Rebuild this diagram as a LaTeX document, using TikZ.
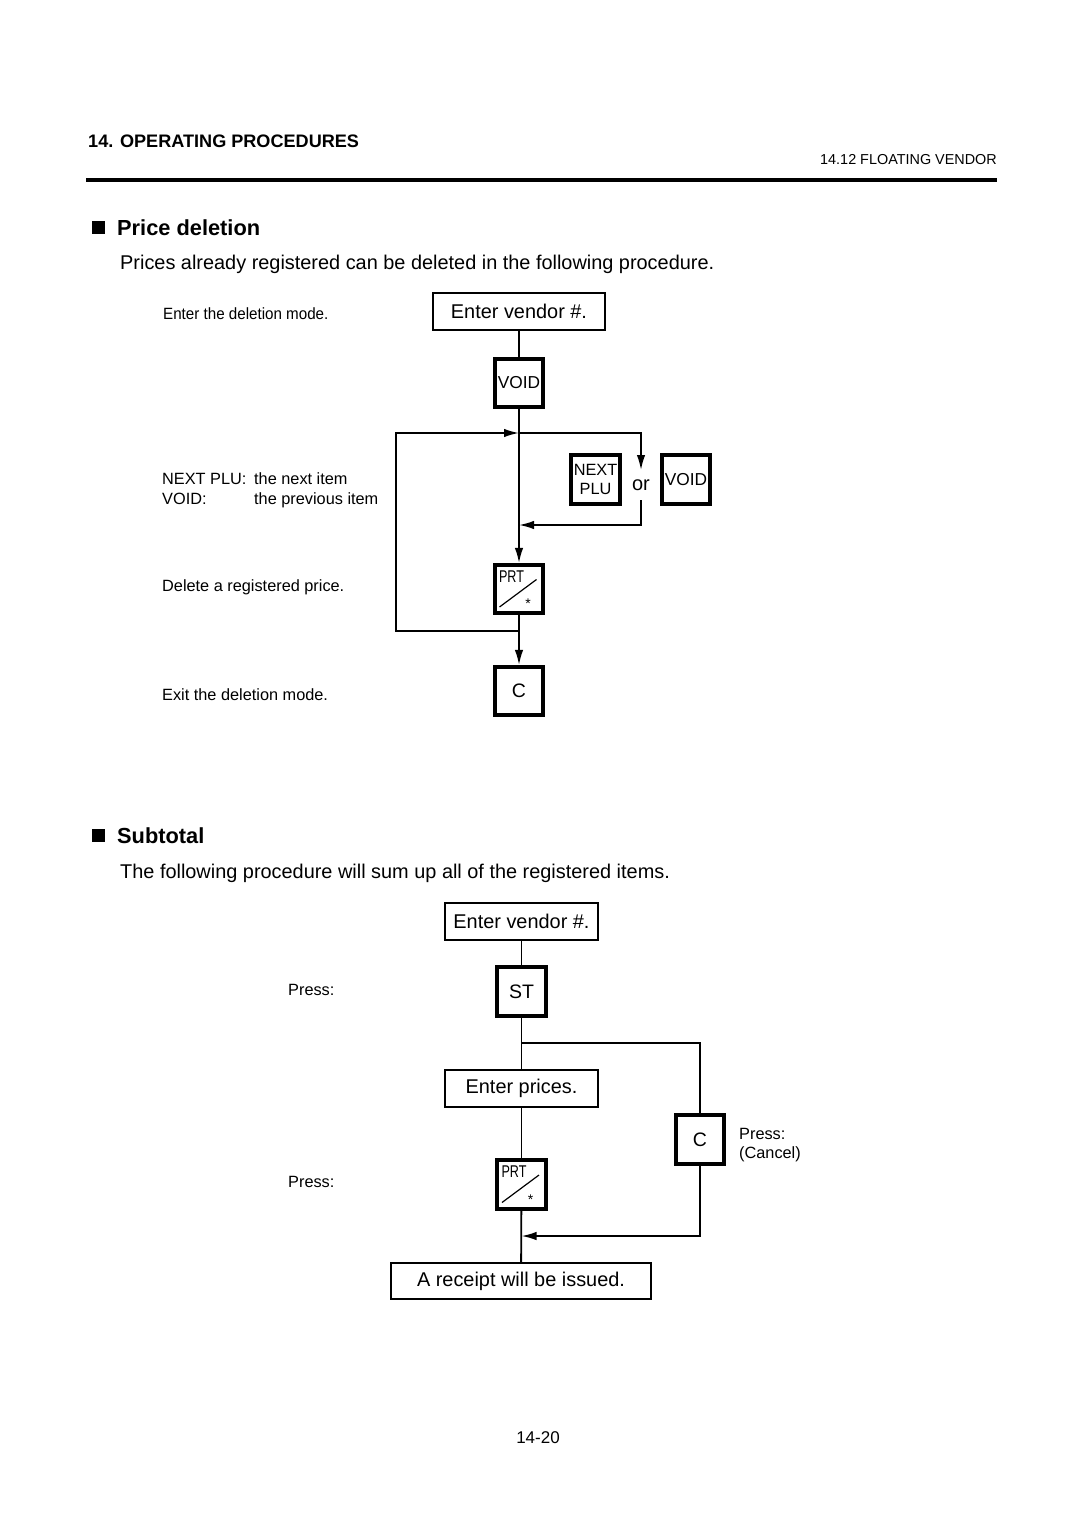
\documentclass[tikz,border=0pt]{standalone}
\usepackage{fontspec}
\usepackage{graphicx}
\setmainfont{Liberation Sans}
\usetikzlibrary{arrows.meta}
\newcommand\myfs[1]{\fontsize{#1}{#1}\selectfont}
\begin{document}
\begin{tikzpicture}[x=1pt,y=-1pt,
  txtbox/.style={draw,line width=1.8pt,inner sep=0pt,font=\myfs{19.9}},
  keybox/.style={draw,line width=3.6pt,minimum width=48.5pt,minimum height=48.5pt,inner sep=0pt},
  conn/.style={line width=1.8pt},
  arr/.style={conn,-{Latex[length=15pt,width=8.5pt]}},
  lbl/.style={anchor=base west,inner sep=0pt,font=\myfs{16.3}},
  hd/.style={anchor=west,inner sep=0pt,font=\myfs{21.8}\bfseries}]
\useasboundingbox[fill=white] (0,0) rectangle (1080,1525);

% header
\node[anchor=west,inner sep=0pt,font=\myfs{18.1}\bfseries] (h1) at (88,141) {14. OPERATING PROCEDURES};
\node[anchor=east,inner sep=0pt,font=\myfs{14.4}] (h2) at (997,160) {14.12 FLOATING VENDOR};
\draw[line width=4pt] (86,180) -- (997,180);

% ===== Price deletion =====
\fill (92,221) rectangle (105,234);
\node[hd] (t1) at (117,228) {Price deletion};
\node[anchor=west,inner sep=0pt,font=\myfs{19.9}] (p1) at (120,264.5) {Prices already registered can be deleted in the following procedure.};

\node[txtbox,minimum width=172pt,minimum height=37pt] (ev1) at (519,311.5) {\raisebox{-1.5pt}{Enter vendor \#.}};
\node[keybox,font=\myfs{17.3}] (void1) at (519,383) {VOID};
\node[keybox] (prt1) at (519,589) {};
\node[keybox,font=\myfs{19.5}] (c1) at (519,691) {C};
\node[keybox,font=\fontsize{16.3}{19}\selectfont,align=center] (np) at (595.5,479.5) {NEXT\\PLU};
\node[keybox,font=\myfs{17.3}] (void2) at (686,479.5) {VOID};
\node[inner sep=0pt,font=\myfs{20}] (or) at (641,485) {or};

% PRT key contents
\node[inner sep=0pt,font=\myfs{17}] (prt1t) at ([shift={(-7.5,-12.5)}]prt1.center) {\scalebox{0.74}[1]{PRT}};
\draw[line width=1.2pt] ([shift={(-19.5,18)}]prt1.center) -- ([shift={(17.5,-9.5)}]prt1.center);
\node[inner sep=0pt,font=\myfs{14}] (prt1s) at ([shift={(9,15)}]prt1.center) {*};

\coordinate (j1) at (519,433);
\coordinate (j2) at (519,631);
\coordinate (lb) at (396,631);
\coordinate (lt) at (396,433);
\coordinate (rt) at (641,433);
\coordinate (ra) at (641,470);
\coordinate (rb) at (641,500);
\coordinate (rc) at (641,525);
\coordinate (j3) at (519,525);

\draw[conn] (ev1) -- (void1);
\draw[conn] (void1) -- (j1);
\draw[arr] (j1) -- (prt1);
\draw[arr] (prt1) -- (c1);
\draw[arr] (j2) -- (lb) -- (lt) -- (j1);
\draw[arr] (j1) -- (rt) -- (ra);
\draw[arr] (rb) -- (rc) -- (j3);

\node[lbl] (l1) at (163,319.5) {\scalebox{0.93}[1]{Enter the deletion mode.}};
\node[lbl] (l2) at (162,484) {NEXT PLU:};
\node[lbl] (l3) at (254,484) {the next item};
\node[lbl] (l4) at (162,504) {VOID:};
\node[lbl] (l5) at (254,504) {the previous item};
\node[lbl] (l6) at (162,591) {Delete a registered price.};
\node[lbl] (l7) at (162,700) {Exit the deletion mode.};

% ===== Subtotal =====
\fill (92,829) rectangle (105,842);
\node[hd] (t2) at (117,836) {Subtotal};
\node[anchor=west,inner sep=0pt,font=\myfs{19.9}] (p2) at (120,873.5) {The following procedure will sum up all of the registered items.};

\node[txtbox,minimum width=153pt,minimum height=37pt] (ev2) at (521.5,921.5) {\raisebox{-1.5pt}{Enter vendor \#.}};
\node[keybox,font=\myfs{19.5}] (st) at (521.5,991.5) {ST};
\node[txtbox,minimum width=153pt,minimum height=37pt] (ep) at (521.5,1088.5) {\raisebox{-1.5pt}{Enter prices.}};
\node[keybox] (prt2) at (521.5,1184.5) {};
\node[txtbox,minimum width=260pt,minimum height=36pt] (rc2) at (521,1281) {\raisebox{-1.5pt}{A receipt will be issued.}};
\node[keybox,font=\myfs{19.5}] (c2) at (700,1139.5) {C};

\node[inner sep=0pt,font=\myfs{17}] (prt2t) at ([shift={(-7.5,-12.5)}]prt2.center) {\scalebox{0.74}[1]{PRT}};
\draw[line width=1.2pt] ([shift={(-19.5,18)}]prt2.center) -- ([shift={(17.5,-9.5)}]prt2.center);
\node[inner sep=0pt,font=\myfs{14}] (prt2s) at ([shift={(9,15)}]prt2.center) {*};

\coordinate (k1) at (521.5,1043);
\coordinate (k2) at (700,1043);
\coordinate (k3) at (700,1236);
\coordinate (k4) at (521.5,1236);

\draw[conn] (ev2) -- (st);
\draw[conn] (st) -- (ep);
\draw[conn] (k1) -- (k2) -- (c2);
\draw[arr] (c2) -- (k3) -- (k4);
\draw[conn] (ep) -- (prt2);
\draw[conn] (prt2) -- (rc2);

\node[lbl] (s1) at (288,995) {Press:};
\node[lbl] (s2) at (288,1187) {Press:};
\node[lbl] (s3) at (739,1139) {Press:};
\node[lbl] (s4) at (739,1158) {(Cancel)};

\node[inner sep=0pt,font=\myfs{17}] (pg) at (538,1438) {14-20};
\end{tikzpicture}
\end{document}
